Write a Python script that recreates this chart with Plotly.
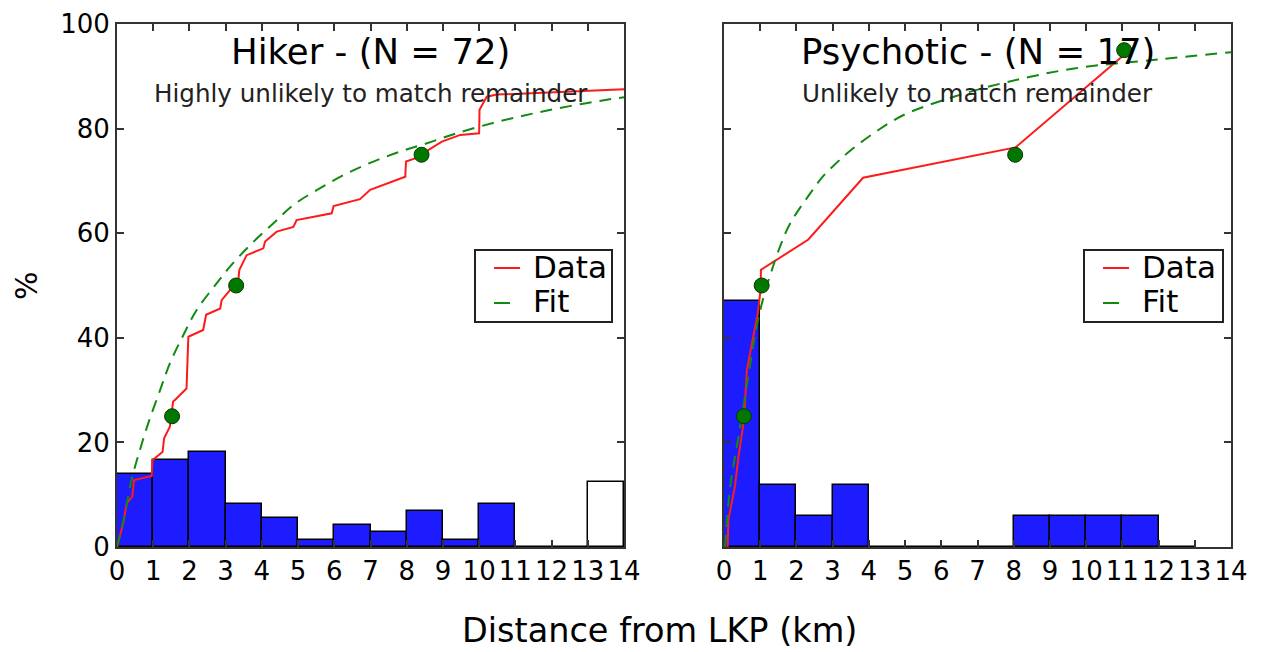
import plotly.graph_objects as go

# ---------------- data ----------------
BIN_LEFT = [0, 1, 2, 3, 4, 5, 6, 7, 8, 9, 10, 11, 12]
HIKER_HIST = [13.9, 16.7, 18.1, 8.3, 5.6, 1.4, 4.2, 2.8, 6.9, 1.4, 8.3, 0, 0]
HIKER_REMAINDER_X = [13]
HIKER_REMAINDER = [12.5]
PSY_HIST = [47.1, 11.8, 5.9, 11.8, 0, 0, 0, 0, 5.9, 5.9, 5.9, 5.9, 0]

HIKER_DATA_X = [0, 0.17, 0.27, 0.42, 0.47, 0.96, 0.98, 1.26, 1.30, 1.46, 1.55, 1.60, 1.92,
                1.97, 2.38, 2.46, 2.85, 2.89, 3.12, 3.35, 3.38, 3.58, 4.04, 4.09, 4.41,
                4.87, 4.96, 5.93, 5.98, 6.71, 6.99, 7.63, 7.96, 7.98, 8.23, 8.97, 9.48,
                10.0, 10.01, 10.21, 10.49, 14.0]
HIKER_DATA_Y = [0, 4.5, 8.4, 9.6, 12.8, 13.6, 16.6, 18.2, 20.8, 23.0, 27.8, 28.1, 30.3,
                40.2, 41.5, 44.4, 45.6, 47.2, 49.1, 51.1, 53.0, 55.8, 57.1, 58.4, 60.3,
                61.2, 62.5, 63.8, 65.2, 66.5, 68.3, 69.9, 70.8, 73.7, 74.3, 77.5, 78.8,
                79.1, 83.6, 86.1, 86.5, 87.5]
HIKER_FIT_X = [0, 0.22, 0.40, 0.63, 0.86, 1.19, 1.46, 1.83, 2.20, 2.75, 3.12, 3.67, 4.32,
               4.87, 5.61, 6.34, 7.08, 7.82, 8.56, 9.38, 10.5, 11.5, 12.5, 13.6, 14.0]
HIKER_FIT_Y = [0, 6.4, 12.8, 18.5, 23.6, 30.0, 35.1, 40.5, 45.3, 50.4, 53.6, 57.7, 61.9,
               65.4, 68.6, 71.4, 73.7, 75.6, 77.2, 79.1, 81.3, 82.9, 84.3, 85.6, 86.0]
HIKER_PCT_X = [1.52, 3.29, 8.41]
HIKER_PCT_Y = [25, 50, 75]

PSY_DATA_X = [0.10, 0.12, 0.30, 0.40, 0.56, 0.63, 0.77, 0.93, 1.01, 1.02, 2.33, 3.84, 8.05, 11.05]
PSY_DATA_Y = [0, 5.2, 11.5, 17.3, 24.7, 33.8, 38.9, 44.6, 49.1, 53.0, 58.8, 70.6, 76.4, 94.1]
PSY_FIT_X = [0.03, 0.17, 0.40, 0.67, 0.90, 1.10, 1.30, 1.55, 1.83, 2.38, 2.75, 3.10, 3.40, 4.13,
             4.96, 6.35, 7.82, 9.67, 11.97, 14.0]
PSY_FIT_Y = [0, 11.5, 21.1, 32.6, 42.1, 48.0, 52.5, 57.5, 61.9, 67.6, 71.0, 73.4, 75.3, 79.1,
             82.6, 86.1, 88.9, 91.5, 93.2, 94.6]
PSY_PCT_X = [0.55, 1.04, 8.04, 11.05]
PSY_PCT_Y = [25, 50, 75, 95]

TITLES = ["Hiker - (N = 72)", "Psychotic - (N = 17)"]
SUBTITLES = ["Highly unlikely to match remainder", "Unlikely to match remainder"]
LEGEND_LABELS = ["Data", "Fit"]
X_TICKS = list(range(0, 15))
Y_TICKS = [0, 20, 40, 60, 80, 100]

# ---------------- style ----------------
FONT = "DejaVu Sans"
BLUE = "#1c1cff"
RED = "#ff1a1a"
GREEN = "#128a12"
DOT = "#007800"

W, H = 1266, 652
PL, PR, PT, PB = 117, 1231, 24, 547          # plot-area box in pixels
ML, MT = PL, PT
MR = W - PR
MB = H - PB
PW, PH = PR - PL, PB - PT
GAP = 100
dom1 = [0, (PW - GAP) / 2 / PW]
dom2 = [1 - (PW - GAP) / 2 / PW, 1]
PANEL_W = (PW - GAP) / 2


def py(px):  # pixel y -> paper/domain y
    return (PB - px) / PH


fig = go.Figure()


def add_panel(xa, ya, hist, data_x, data_y, fit_x, fit_y, pct_x, pct_y):
    centers = [b + 0.5 for b in BIN_LEFT]
    fig.add_trace(go.Bar(x=centers, y=hist, width=1,
                         marker=dict(color=BLUE, line=dict(color="black", width=1.5)),
                         xaxis=xa, yaxis=ya, showlegend=False, hoverinfo="skip"))
    fig.add_trace(go.Scatter(x=data_x, y=data_y, mode="lines", name=LEGEND_LABELS[0], showlegend=False,
                             line=dict(color=RED, width=2), xaxis=xa, yaxis=ya))
    fig.add_trace(go.Scatter(x=fit_x, y=fit_y, mode="lines", name=LEGEND_LABELS[1], showlegend=False,
                             line_shape="spline",
                             line=dict(color=GREEN, width=2, dash="12px,8px"), xaxis=xa, yaxis=ya))
    fig.add_trace(go.Scatter(x=pct_x, y=pct_y, mode="markers", showlegend=False,
                             marker=dict(color=DOT, size=15, line=dict(color="#003a00", width=1)),
                             xaxis=xa, yaxis=ya))


add_panel("x", "y", HIKER_HIST, HIKER_DATA_X, HIKER_DATA_Y, HIKER_FIT_X, HIKER_FIT_Y,
          HIKER_PCT_X, HIKER_PCT_Y)
fig.add_trace(go.Bar(x=[v + 0.5 for v in HIKER_REMAINDER_X], y=HIKER_REMAINDER, width=1,
                     marker=dict(color="white", line=dict(color="black", width=1.5)),
                     xaxis="x", yaxis="y", showlegend=False, hoverinfo="skip"))
add_panel("x2", "y2", PSY_HIST, PSY_DATA_X, PSY_DATA_Y, PSY_FIT_X, PSY_FIT_Y,
          PSY_PCT_X, PSY_PCT_Y)

axis_common = dict(
    showline=True, linecolor="#333333", linewidth=2, mirror="ticks",
    ticks="inside", ticklen=7, tickwidth=1.5, tickcolor="#333333",
    showgrid=False, zeroline=False,
    tickfont=dict(family=FONT, size=26, color="black"),
)

fig.update_layout(
    width=W, height=H,
    margin=dict(l=ML, r=MR, t=MT, b=MB, autoexpand=False),
    paper_bgcolor="white", plot_bgcolor="white",
    barmode="overlay", bargap=0,
    font=dict(family=FONT, color="black"),
    showlegend=False,
    xaxis=dict(domain=dom1, range=[0, 14], tickvals=X_TICKS, anchor="y", **axis_common),
    yaxis=dict(domain=[0, 1], range=[0, 100], tickvals=Y_TICKS, anchor="x", **axis_common),
    xaxis2=dict(domain=dom2, range=[0, 14], tickvals=X_TICKS, anchor="y2", **axis_common),
    yaxis2=dict(domain=[0, 1], range=[0, 100], tickvals=Y_TICKS, anchor="x2",
                showticklabels=False, **axis_common),
)

# legend boxes (one per panel), positioned in each panel's domain
LG_L, LG_R = (475 - 117) / PANEL_W, (612 - 117) / PANEL_W
LG_T, LG_B = py(250), py(322)
S0, S1, S1D, TX = LG_L + 19 / PANEL_W, LG_L + 45 / PANEL_W, LG_L + 35 / PANEL_W, LG_L + 56 / PANEL_W
for i in range(2):
    xr = "x domain" if i == 0 else "x2 domain"
    yr = "y domain" if i == 0 else "y2 domain"
    off = 0 if i == 0 else 2 / PANEL_W
    fig.add_shape(type="rect", xref=xr, yref=yr, x0=LG_L + off, x1=LG_R + 2 * off, y0=LG_B, y1=LG_T,
                  line=dict(color="#222222", width=2), fillcolor="white", layer="above")
    fig.add_shape(type="line", xref=xr, yref=yr, x0=S0 + off, x1=S1 + off, y0=py(268), y1=py(268),
                  line=dict(color=RED, width=2), layer="above")
    fig.add_shape(type="line", xref=xr, yref=yr, x0=S0 + off, x1=S1D + off, y0=py(303), y1=py(303),
                  line=dict(color=GREEN, width=2), layer="above")
    fig.add_annotation(text=LEGEND_LABELS[0], xref=xr, yref=yr, x=TX + off, y=py(267), xanchor="left",
                       yanchor="middle", showarrow=False, font=dict(family=FONT, size=31, color="black"))
    fig.add_annotation(text=LEGEND_LABELS[1], xref=xr, yref=yr, x=TX + off, y=py(301), xanchor="left",
                       yanchor="middle", showarrow=False, font=dict(family=FONT, size=31, color="black"))

for i, (t, s) in enumerate(zip(TITLES, SUBTITLES)):
    xr = "x domain" if i == 0 else "x2 domain"
    yr = "y domain" if i == 0 else "y2 domain"
    fig.add_annotation(text=t, xref=xr, yref=yr, x=0.5, y=py(52), xanchor="center",
                       yanchor="middle", showarrow=False, font=dict(family=FONT, size=35.5, color="black"))
    fig.add_annotation(text=s, xref=xr, yref=yr, x=0.5, y=py(93), xanchor="center",
                       yanchor="middle", showarrow=False, font=dict(family=FONT, size=24.6, color="#222222"))

fig.add_annotation(text="%", xref="paper", yref="paper", x=(26 - PL) / PW, y=py(286),
                   xanchor="center", yanchor="middle", textangle=-90, showarrow=False,
                   font=dict(family=FONT, size=30, color="black"))
fig.add_annotation(text="Distance from LKP (km)", xref="paper", yref="paper", x=(659 - PL) / PW,
                   y=py(630), xanchor="center", yanchor="middle", showarrow=False,
                   font=dict(family=FONT, size=33.5, color="black"))

# remove the browser's default 8px body margin so the figure fills the 1266x652 window exactly
fig.write_html("out.html", config={"displayModeBar": False},
               post_script="document.body.style.margin='0';document.body.style.overflow='hidden';")
